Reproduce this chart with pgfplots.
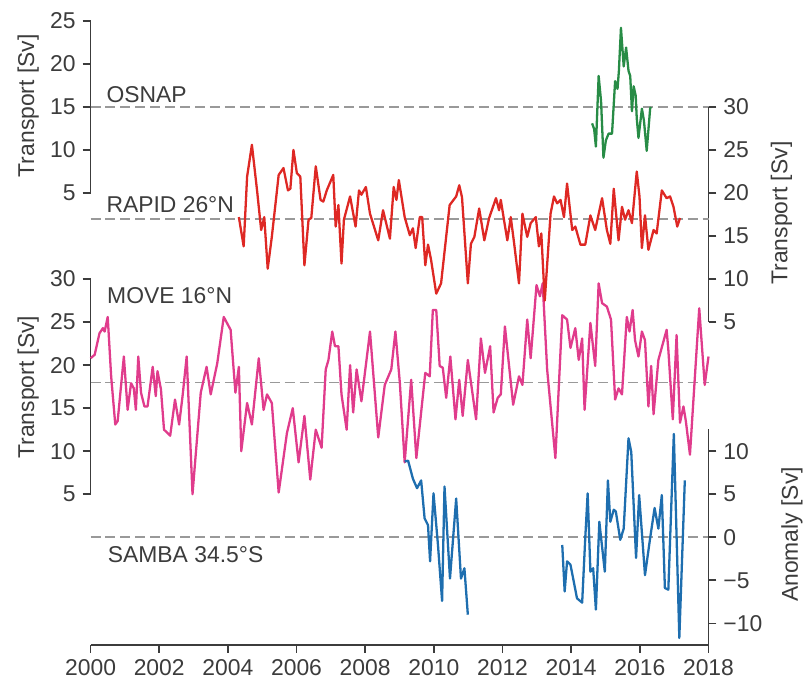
\documentclass[border=0pt]{standalone}
\usepackage{pgfplots}
\pgfplotsset{compat=1.18}
\usepackage{fontspec}
\setmainfont{Liberation Sans}
\definecolor{cosnap}{RGB}{40,140,70}
\definecolor{crapid}{RGB}{222,40,36}
\definecolor{cmove}{RGB}{224,60,140}
\definecolor{csamba}{RGB}{30,110,175}
\definecolor{axc}{RGB}{60,60,60}
\pgfplotsset{
  base/.style={
    scale only axis, width=310.5pt, height=313.5pt,
    xmin=2000, xmax=2018, clip=false,
    at={(0,0)}, anchor=south west,
    font=\fontsize{11.5}{14}\selectfont,
    tick align=outside, major tick length=4pt,
    tick style={axc, line width=0.8pt},
    axis line style={draw=none},
    /pgf/number format/assume math mode=true,
    /pgf/number format/1000 sep={},
    every tick label/.append style={text=axc},
    ylabel style={text=axc},
  },
  dline/.style={gray!80, line width=0.8pt, dash pattern=on 5pt off 2.5pt},
  dat/.style={line width=1.15pt, line join=round},
}
\begin{document}
\begin{tikzpicture}
% ---------- lower axis: MOVE and SAMBA data, x axis, left lower ticks
\begin{axis}[base, ymin=-12.5, ymax=60,
  axis x line*=bottom, axis y line*=left,
  xtick={2000,2002,...,2018}, ytick={5,10,...,30},
  ylabel={Transport [Sv]},
  ylabel style={at={(rel axis cs:-0.101,0.413)}, anchor=center}]
\draw[axc, line width=0.8pt] (axis cs:2000,-12.5) -- (axis cs:2018,-12.5);
\draw[axc, line width=0.8pt] (axis cs:2000,5) -- (axis cs:2000,30);
\addplot[dline] coordinates {(2000,18) (2018,18)};
\addplot[dline] coordinates {(2000,0) (2018,0)};
\addplot[dat, cmove] coordinates {
(2000.00,20.8)(2000.12,21.2)(2000.26,23.7)(2000.36,24.3)(2000.41,23.9)(2000.50,25.6)(2000.60,18.7)(2000.72,13.1)(2000.79,13.5)
(2000.97,21.0)(2001.08,14.8)(2001.18,17.9)(2001.26,17.3)(2001.32,14.8)(2001.39,21.0)(2001.47,16.8)(2001.57,15.2)(2001.66,15.2)
(2001.81,19.8)(2001.90,16.4)(2001.95,19.3)(2002.05,17.2)(2002.14,12.5)(2002.32,11.8)(2002.46,16.0)(2002.58,13.1)(2002.68,16.4)
(2002.80,21.0)(2002.97,5.0)(2003.21,16.8)(2003.38,19.8)(2003.50,16.6)(2003.69,20.2)(2003.88,25.6)(2004.08,24.1)(2004.22,16.8)
(2004.32,19.8)(2004.39,10.0)(2004.56,15.6)(2004.70,13.1)(2004.90,20.8)(2005.04,14.8)(2005.14,16.6)(2005.28,15.6)(2005.48,5.2)
(2005.72,12.1)(2005.89,15.0)(2006.06,8.7)(2006.23,14.1)(2006.40,6.7)(2006.56,12.5)(2006.73,10.4)(2006.85,19.5)(2006.93,20.6)
(2007.04,23.9)(2007.12,22.2)(2007.22,22.2)(2007.31,16.6)(2007.46,12.5)(2007.56,20.0)(2007.65,14.5)(2007.75,19.5)(2007.89,15.8)
(2008.14,23.9)(2008.38,11.6)(2008.57,17.7)(2008.76,19.5)(2008.88,23.9)(2009.01,17.9)(2009.15,8.7)(2009.34,18.3)(2009.49,9.2)
(2009.75,19.1)(2009.88,18.7)(2009.97,26.4)(2010.07,26.4)(2010.17,19.9)(2010.26,19.7)(2010.36,16.2)(2010.48,21.0)(2010.63,13.7)
(2010.74,18.3)(2010.84,14.1)(2010.99,20.6)(2011.23,13.7)(2011.37,23.1)(2011.49,19.1)(2011.64,22.2)(2011.74,14.5)(2011.86,16.2)
(2011.95,16.6)(2012.07,24.5)(2012.31,15.4)(2012.48,18.7)(2012.58,17.7)(2012.72,25.3)(2012.82,20.8)(2012.99,29.3)(2013.09,28.0)
(2013.17,29.5)(2013.30,19.5)(2013.54,9.2)(2013.74,25.8)(2013.88,25.3)(2013.98,22.0)(2014.12,24.3)(2014.22,20.6)(2014.32,23.1)
(2014.39,14.8)(2014.56,24.9)(2014.70,19.9)(2014.80,29.5)(2014.90,27.2)(2015.04,26.8)(2015.16,25.3)(2015.28,16.0)(2015.38,17.3)
(2015.48,16.6)(2015.62,25.6)(2015.70,23.9)(2015.79,26.4)(2015.86,22.9)(2015.96,21.0)(2016.06,23.9)(2016.15,22.9)(2016.25,15.2)
(2016.33,19.9)(2016.40,14.3)(2016.54,20.6)(2016.78,24.1)(2016.83,21.8)(2016.96,13.7)(2017.07,23.5)(2017.17,13.3)(2017.27,15.2)
(2017.34,13.5)(2017.46,9.6)(2017.73,26.6)(2017.89,17.7)(2018.00,21.0)};
\addplot[dat, csamba] coordinates {
(2009.15,8.8)(2009.25,8.9)(2009.39,6.8)(2009.51,5.7)(2009.63,6.6)(2009.73,2.2)(2009.83,1.4)(2009.89,-2.8)(2009.99,5.1)
(2010.12,-0.9)(2010.24,-7.4)(2010.31,5.9)(2010.47,-4.8)(2010.65,4.5)(2010.79,-4.8)(2010.89,-3.6)(2010.99,-9.0)};
\addplot[dat, csamba] coordinates {
(2013.74,-0.9)(2013.81,-6.3)(2013.88,-2.8)(2013.98,-3.2)(2014.17,-7.1)(2014.32,-7.6)(2014.41,-0.1)(2014.48,5.1)(2014.56,-4.0)
(2014.64,-3.6)(2014.72,-8.4)(2014.82,1.8)(2014.98,-4.0)(2015.07,6.6)(2015.14,1.8)(2015.24,3.2)(2015.30,3.0)(2015.43,-0.3)
(2015.53,1.0)(2015.67,11.5)(2015.75,9.9)(2015.89,-2.4)(2015.98,4.9)(2016.15,-4.4)(2016.30,-0.1)(2016.43,3.4)(2016.54,1.0)
(2016.64,4.9)(2016.73,-5.9)(2016.83,-6.1)(2016.99,12.0)(2017.15,-11.7)(2017.31,6.6)};
\node[anchor=base west, text=axc] at (axis cs:2000.28,27.2) {MOVE 16°N};
\node[anchor=base west, text=axc] at (axis cs:2000.30,-2.9) {SAMBA 34.5°S};
\end{axis}
% ---------- lower right: anomaly axis
\begin{axis}[base, ymin=-12.5, ymax=60,
  axis x line=none, axis y line*=right,
  ytick={-10,-5,0,5,10}, yticklabels={−10,−5,0,5,10},
  ylabel={Anomaly [Sv]},
  ylabel style={at={(rel axis cs:1.135,0.177)}, anchor=center}]
\draw[axc, line width=0.8pt] (axis cs:2018,-12.5) -- (axis cs:2018,12.6);
\end{axis}
% ---------- upper left: OSNAP
\begin{axis}[base, ymin=-47.5, ymax=25,
  axis x line=none, axis y line*=left,
  ytick={5,10,...,25},
  ylabel={Transport [Sv]},
  ylabel style={at={(rel axis cs:-0.101,0.864)}, anchor=center}]
\draw[axc, line width=0.8pt] (axis cs:2000,5) -- (axis cs:2000,25);
\addplot[dline] coordinates {(2000,15) (2018,15)};
\addplot[dat, cosnap] coordinates {
(2014.61,13.1)(2014.67,12.4)(2014.72,10.4)(2014.80,18.6)(2014.87,15.7)(2014.94,9.1)(2015.01,11.1)(2015.09,11.9)(2015.19,11.9)
(2015.28,18.0)(2015.35,17.1)(2015.39,19.2)(2015.45,24.2)(2015.53,19.7)(2015.60,21.9)(2015.67,19.2)(2015.72,18.6)(2015.77,14.5)
(2015.82,17.4)(2015.88,16.3)(2015.91,13.7)(2015.96,11.4)(2016.06,14.8)(2016.12,13.4)(2016.20,9.9)(2016.30,14.8)(2016.32,15.0)};
\node[anchor=base west, text=axc] at (axis cs:2000.26,15.5) {OSNAP};
\end{axis}
% ---------- upper right: RAPID
\begin{axis}[base, ymin=-32.5, ymax=40,
  axis x line=none, axis y line*=right,
  ytick={5,10,...,30},
  ylabel={Transport [Sv]},
  ylabel style={at={(rel axis cs:1.118,0.692)}, anchor=center}]
\draw[axc, line width=0.8pt] (axis cs:2018,5) -- (axis cs:2018,30);
\addplot[dline] coordinates {(2000,17) (2018,17)};
\addplot[dat, crapid] coordinates {
(2004.32,17.2)(2004.46,13.8)(2004.56,21.9)(2004.70,25.6)(2004.85,20.3)(2004.97,15.7)(2005.06,17.2)(2005.16,11.2)(2005.28,14.9)
(2005.48,22.1)(2005.62,22.9)(2005.75,20.3)(2005.82,20.5)(2005.91,25.0)(2006.01,22.3)(2006.11,21.9)(2006.23,11.6)(2006.35,16.9)
(2006.43,17.1)(2006.56,23.1)(2006.70,19.2)(2006.78,19.0)(2006.88,20.3)(2007.07,22.1)(2007.14,16.1)(2007.22,18.6)(2007.31,11.8)
(2007.38,16.9)(2007.56,19.6)(2007.72,16.1)(2007.82,20.3)(2007.89,19.8)(2008.02,20.7)(2008.14,17.6)(2008.38,14.5)(2008.52,18.0)
(2008.72,14.7)(2008.83,20.7)(2008.91,19.2)(2008.98,21.5)(2009.15,17.2)(2009.30,15.1)(2009.39,15.9)(2009.47,13.6)(2009.59,17.2)
(2009.66,17.2)(2009.75,11.6)(2009.83,14.0)(2009.92,12.2)(2010.07,8.3)(2010.21,9.5)(2010.46,18.6)(2010.65,19.6)(2010.74,20.9)
(2010.82,19.5)(2010.99,9.5)(2011.08,14.1)(2011.18,14.9)(2011.32,18.2)(2011.47,14.5)(2011.61,17.1)(2011.81,19.4)(2011.90,18.0)
(2011.95,19.2)(2012.05,16.7)(2012.14,14.5)(2012.24,17.2)(2012.34,14.1)(2012.48,9.5)(2012.58,17.6)(2012.72,14.9)(2012.82,16.5)
(2012.97,17.2)(2013.06,13.8)(2013.13,15.3)(2013.23,7.5)(2013.40,17.6)(2013.50,19.6)(2013.59,18.8)(2013.69,19.2)(2013.79,17.2)
(2013.88,21.1)(2014.03,15.7)(2014.12,16.1)(2014.27,14.0)(2014.41,14.0)(2014.56,17.4)(2014.70,15.7)(2014.90,19.4)(2015.04,15.7)
(2015.14,14.1)(2015.24,20.5)(2015.38,14.5)(2015.48,18.4)(2015.57,16.9)(2015.67,18.0)(2015.77,16.5)(2015.91,22.5)(2015.99,19.6)
(2016.06,13.6)(2016.15,17.4)(2016.25,13.4)(2016.40,15.7)(2016.49,15.3)(2016.64,20.3)(2016.78,19.4)(2016.88,19.6)(2016.98,18.4)
(2017.09,16.1)(2017.17,17.1)};
\node[anchor=base west, text=axc] at (axis cs:2000.26,17.7) {RAPID 26°N};
\end{axis}
\pgfresetboundingbox
\path (-45.5pt,-22pt) rectangle (360.5pt,324pt);
\end{tikzpicture}
\end{document}
